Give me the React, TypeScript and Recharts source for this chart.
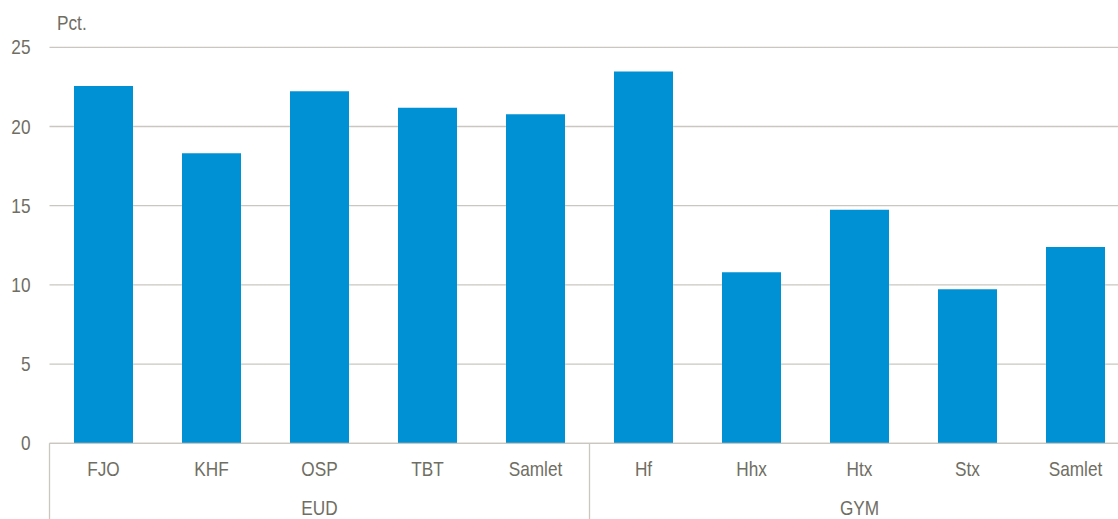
import { BarChart, Bar, XAxis, YAxis, CartesianGrid } from 'recharts';

// Share in pct. per school type, EUD vs GYM.
const categories = ['FJO', 'KHF', 'OSP', 'TBT', 'Samlet', 'Hf', 'Hhx', 'Htx', 'Stx', 'Samlet'];
const groups = ['EUD', 'EUD', 'EUD', 'EUD', 'EUD', 'GYM', 'GYM', 'GYM', 'GYM', 'GYM'];
const values = [22.56, 18.31, 22.22, 21.19, 20.77, 23.48, 10.8, 14.75, 9.72, 12.39];
const yTicks = [0, 5, 10, 15, 20, 25];

const BAR_COLOR = '#0091D5';
const GRID_COLOR = '#C9C7C0';
const TEXT_COLOR = '#6F6E63';
const FONT = "'Liberation Sans', Arial, sans-serif";
// reference uses a narrow face; squeeze the regular one horizontally
const NARROW = 0.82;

const data = categories.map((cat, i) => ({ cat, group: groups[i], value: values[i] }));

function NarrowText({ x, y, anchor, children }: any) {
  return (
    <g transform={`translate(${x},${y}) scale(${NARROW},1)`}>
      <text x={0} y={0} textAnchor={anchor} dominantBaseline="central" fill={TEXT_COLOR} fontSize={21} fontFamily={FONT}>
        {children}
      </text>
    </g>
  );
}

function CatTick(props: any) {
  const { x, y, payload, index } = props;
  const i = payload?.index ?? index;
  const half = payload?.offset ?? 54;
  const left = (payload?.coordinate ?? x) - half;
  const g = groups[i];
  const first = i === 0 || groups[i - 1] !== g;
  // middle of the group -> draw group label
  const members = groups.filter((v) => v === g).length;
  const start = groups.indexOf(g);
  const mid = i - start === Math.floor(members / 2);
  return (
    <g>
      {first && <line x1={left} x2={left} y1={y} y2={y + 80} stroke={GRID_COLOR} strokeWidth={1.3} />}
      <NarrowText x={x} y={y + 26} anchor="middle">{payload.value}</NarrowText>
      {mid && <NarrowText x={x} y={y + 65} anchor="middle">{g}</NarrowText>}
    </g>
  );
}

function ValueTick(props: any) {
  const { x, y, payload } = props;
  return <NarrowText x={x} y={y} anchor="end">{payload.value}</NarrowText>;
}

export default function App() {
  return (
    <div style={{ position: 'absolute', left: 0, top: 0, width: 1118, height: 519, overflow: 'hidden', background: '#fff' }}>
      <div
        style={{
          position: 'absolute',
          left: 57,
          top: 11,
          color: TEXT_COLOR,
          fontSize: 21,
          fontFamily: FONT,
          transform: `scaleX(${NARROW})`,
          transformOrigin: 'left top',
        }}
      >
        Pct.
      </div>
      <BarChart width={1140} height={519} data={data} margin={{ top: 47.3, right: 10.5, left: 0, bottom: 0 }} barCategoryGap={24.5}>
        <CartesianGrid vertical={false} stroke={GRID_COLOR} strokeWidth={1.3} />
        <XAxis
          dataKey="cat"
          height={75.7}
          interval={0}
          tickLine={false}
          tickSize={0}
          tickMargin={0}
          axisLine={{ stroke: GRID_COLOR, strokeWidth: 1.3 }}
          tick={<CatTick />}
        />
        <YAxis
          width={49.5}
          domain={[0, 25]}
          ticks={yTicks}
          axisLine={false}
          tickLine={false}
          tickSize={0}
          tickMargin={19}
          tick={<ValueTick />}
        />
        <Bar dataKey="value" fill={BAR_COLOR} isAnimationActive={false} />
      </BarChart>
    </div>
  );
}
